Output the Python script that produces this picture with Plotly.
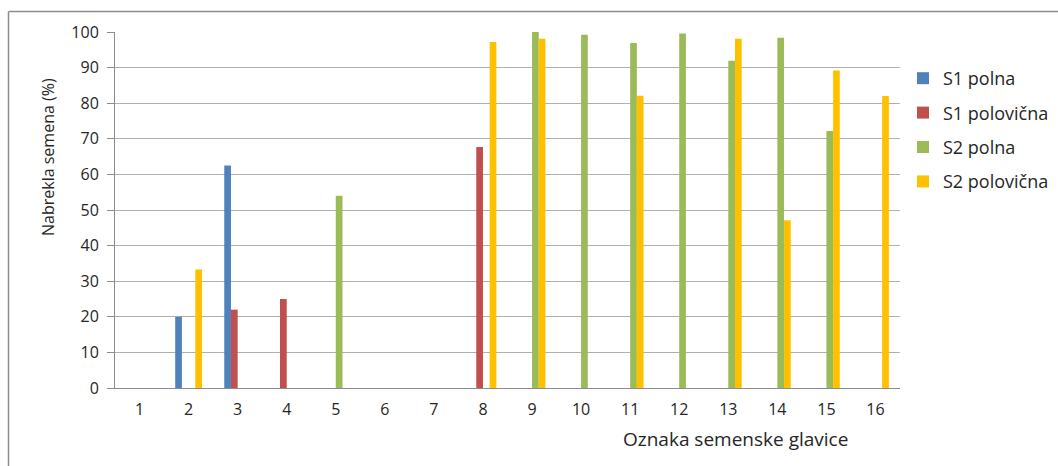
import plotly.graph_objects as go

# Seed head labels on the x axis
categories = [str(i) for i in range(1, 17)]

# Swollen seed share (%) per series; 0 where nothing was recorded
s1_polna = [0, 20, 62.5, 0, 0, 0, 0, 0, 0, 0, 0, 0, 0, 0, 0, 0]
s1_polovicna = [0, 0, 22, 25, 0, 0, 0, 67.7, 0, 0, 0, 0, 0, 0, 0, 0]
s2_polna = [0, 0, 0, 0, 54, 0, 0, 0, 100, 99.2, 96.9, 99.6, 91.9, 98.4, 72.2, 0]
s2_polovicna = [0, 33.3, 0, 0, 0, 0, 0, 97.2, 98.1, 0, 82.1, 0, 98.1, 47.1, 89.2, 82]

series = [
    ("S1 polna", s1_polna, "#4F81BD"),
    ("S1 polovična", s1_polovicna, "#C0504D"),
    ("S2 polna", s2_polna, "#9BBB59"),
    ("S2 polovična", s2_polovicna, "#FFC000"),
]

FONT = "'Open Sans', sans-serif"
W, H = 1058, 466
L, R, T, B = 115, 158, 32, 78

fig = go.Figure()
for name, vals, color in series:
    fig.add_trace(go.Bar(
        x=categories, y=vals, name=name, legendgroup=name,
        marker=dict(color=color, line=dict(width=0)),
    ))

plot_w = W - L - R
plot_h = H - T - B


def px_x(p):
    return (p - L) / plot_w


def px_y(p):
    return (H - B - p) / plot_h


fig.update_layout(
    width=W, height=H,
    margin=dict(l=L, r=R, t=T, b=B, autoexpand=False),
    paper_bgcolor="white", plot_bgcolor="white",
    font=dict(family=FONT, color="#262626", size=16),
    barmode="group", bargap=0.454, bargroupgap=0,
    showlegend=True,
    legend=dict(
        x=px_x(903), y=px_y(60), xanchor="left", yanchor="top",
        font=dict(size=18, color="#262626"),
        tracegroupgap=8, itemwidth=30,
        bgcolor="rgba(0,0,0,0)",
    ),
    xaxis=dict(
        showline=True, linecolor="#8c8c8c", linewidth=1,
        ticks="", showgrid=False, tickfont=dict(size=16),
        ticklabelstandoff=7,
    ),
    yaxis=dict(
        range=[0, 100], dtick=10, showline=True, linecolor="#8c8c8c", linewidth=1,
        ticks="outside", ticklen=7, tickcolor="#8c8c8c",
        gridcolor="#b0b0b0", gridwidth=1, tickfont=dict(size=16),
        ticklabelstandoff=5, zeroline=False,
    ),
    annotations=[
        dict(text="Nabrekla semena (%)", textangle=-90, x=px_x(48), y=px_y(157),
             xanchor="center", yanchor="middle",
             xref="paper", yref="paper", showarrow=False, font=dict(size=16)),
        dict(text="Oznaka semenske glavice", x=px_x(735), y=px_y(439),
             xanchor="center", yanchor="middle",
             xref="paper", yref="paper", showarrow=False, font=dict(size=19)),
    ],
    shapes=[
        dict(type="line", xref="paper", yref="paper", x0=px_x(8.5), x1=px_x(1060),
             y0=px_y(11.5), y1=px_y(11.5), line=dict(color="#8c8c8c", width=1.5)),
        dict(type="line", xref="paper", yref="paper", x0=px_x(8.5), x1=px_x(8.5),
             y0=px_y(11.5), y1=px_y(470), line=dict(color="#8c8c8c", width=1.5)),
    ],
)

fig.write_html("out.html")
